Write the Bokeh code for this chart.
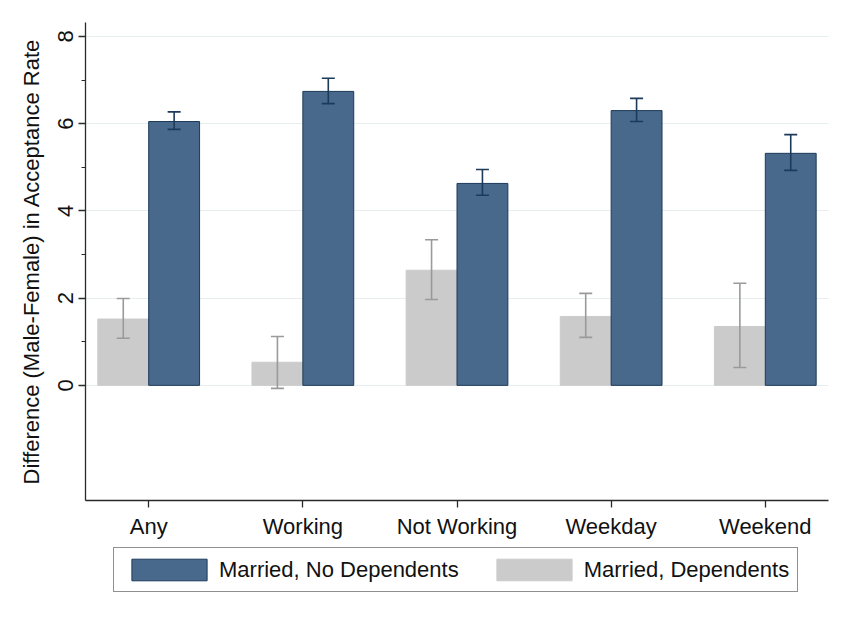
from bokeh.plotting import figure
from bokeh.layouts import column
from bokeh.models import (Range1d, FixedTicker, ColumnDataSource, Whisker, TeeHead,
                          Legend, LegendItem)
from bokeh.embed import file_html
from bokeh.resources import INLINE

categories = ["Any", "Working", "Not Working", "Weekday", "Weekend"]
nodep_vals = [6.05, 6.74, 4.63, 6.30, 5.32]
nodep_lo = [5.87, 6.46, 4.36, 6.05, 4.93]
nodep_hi = [6.27, 7.04, 4.95, 6.58, 5.75]
dep_vals = [1.52, 0.53, 2.64, 1.58, 1.35]
dep_lo = [1.08, -0.07, 1.97, 1.10, 0.41]
dep_hi = [1.99, 1.12, 3.34, 2.11, 2.34]
y_ticks = [0, 2, 4, 6, 8]
y_minor = [1, 3, 5, 7]
series_names = ["Married, No Dependents", "Married, Dependents"]

BLUE = "#48698c"
BLUE_LINE = "#1c3a5a"
GRAY = "#cbcbcb"
GRAY_ERR = "#9a9a9a"
FONT = "Liberation Sans"
FS = "22px"

idx = list(range(len(categories)))
off = 0.165
w = 0.33

src_dep = ColumnDataSource(dict(x=[i - off for i in idx], top=dep_vals, lo=dep_lo, hi=dep_hi))
src_nod = ColumnDataSource(dict(x=[i + off for i in idx], top=nodep_vals, lo=nodep_lo, hi=nodep_hi))

p = figure(frame_width=743, frame_height=478, output_backend="svg", toolbar_location=None,
           x_range=Range1d(-0.41, 4.41), y_range=Range1d(-2.64, 8.32),
           min_border_left=85, min_border_top=22, min_border_right=14, min_border_bottom=44)
p.outline_line_color = None
p.background_fill_color = "white"

r_dep = p.vbar(x="x", top="top", bottom=0, width=w, source=src_dep,
               fill_color=GRAY, line_color=GRAY, line_width=1)
r_nod = p.vbar(x="x", top="top", bottom=0, width=w, source=src_nod,
               fill_color=BLUE, line_color=BLUE_LINE, line_width=1)

for src, col in [(src_dep, GRAY_ERR), (src_nod, BLUE_LINE)]:
    wk = Whisker(base="x", lower="lo", upper="hi", source=src,
                 line_color=col, line_width=1.6, level="overlay",
                 upper_head=TeeHead(size=13, line_color=col, line_width=1.6),
                 lower_head=TeeHead(size=13, line_color=col, line_width=1.6))
    p.add_layout(wk)

# axes
p.xaxis.ticker = FixedTicker(ticks=idx)
p.xaxis.major_label_overrides = {i: c for i, c in zip(idx, categories)}
p.xgrid.grid_line_color = None

p.yaxis.ticker = FixedTicker(ticks=y_ticks, minor_ticks=y_minor)
p.yaxis.major_label_orientation = "vertical"
p.yaxis.axis_label = "Difference (Male-Female) in Acceptance Rate"
p.ygrid.grid_line_color = "#e6eef0"
p.ygrid.grid_line_width = 1.2

for ax in [p.xaxis[0], p.yaxis[0]]:
    ax.axis_line_color = "#2a2a2a"
    ax.axis_line_width = 1.3
    ax.major_tick_line_color = "#2a2a2a"
    ax.major_tick_line_width = 1.3
    ax.major_tick_out = 7
    ax.major_tick_in = 0
    ax.minor_tick_out = 4
    ax.minor_tick_in = 0
    ax.minor_tick_line_color = "#2a2a2a"
    ax.major_label_text_font = FONT
    ax.major_label_text_font_size = FS
    ax.major_label_text_color = "#111111"
    ax.axis_label_text_font = FONT
    ax.axis_label_text_font_size = FS
    ax.axis_label_text_font_style = "normal"
    ax.axis_label_text_color = "#111111"
p.xaxis.minor_tick_line_color = None
p.xaxis.major_label_standoff = 6
p.yaxis.major_label_standoff = 5
p.yaxis.axis_label_standoff = 12

# legend strip below the chart (its bars lie outside its visible range)
lg = figure(width=842, height=68, output_backend="svg", toolbar_location=None,
            x_range=Range1d(100, 101), y_range=Range1d(100, 101),
            x_axis_type=None, y_axis_type=None,
            min_border_left=0, min_border_right=0, min_border_top=0, min_border_bottom=0)
lg.outline_line_color = None
lg.xgrid.grid_line_color = None
lg.ygrid.grid_line_color = None
l_nod = lg.vbar(x="x", top="top", bottom=0, width=w, source=src_nod,
                fill_color=BLUE, line_color=BLUE_LINE, line_width=1)
l_dep = lg.vbar(x="x", top="top", bottom=0, width=w, source=src_dep,
                fill_color=GRAY, line_color=GRAY, line_width=1)

legend = Legend(items=[LegendItem(label=series_names[0], renderers=[l_nod]),
                       LegendItem(label=series_names[1], renderers=[l_dep])],
                orientation="horizontal", location=(28, 20))
legend.glyph_width = 94
legend.glyph_height = 27
legend.label_text_font = FONT
legend.label_text_font_size = FS
legend.label_text_color = "#111111"
legend.label_standoff = 3
legend.spacing = 28
legend.padding = 8
legend.margin = 0
legend.border_line_color = "#222222"
legend.border_line_width = 1
legend.background_fill_alpha = 1
lg.add_layout(legend, "center")

layout = column(p, lg, spacing=0)
open("out.html", "w").write(file_html(layout, INLINE))
